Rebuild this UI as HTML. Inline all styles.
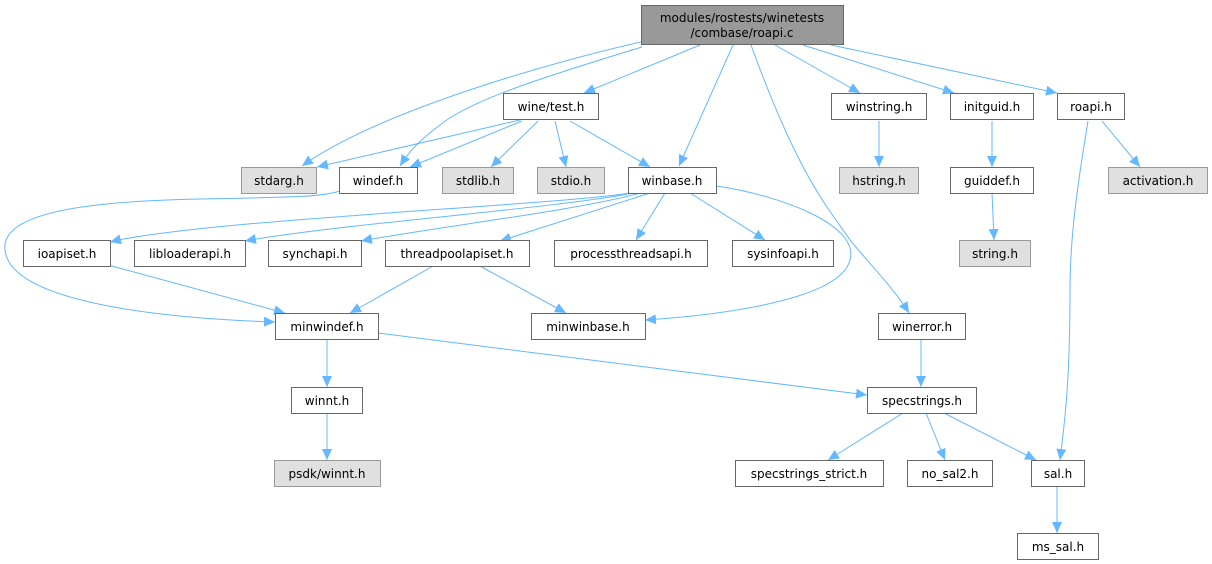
<!DOCTYPE html>
<html><head><meta charset="utf-8"><style>
html,body{margin:0;padding:0;background:#fff;}
svg{display:block;}
text{font-family:"DejaVu Sans","Liberation Sans",sans-serif;font-size:12px;fill:#000;text-anchor:middle;}
.n{fill:#fff;stroke:#666;stroke-width:1;}
.g{fill:#e0e0e0;stroke:#999;stroke-width:1;}
.r{fill:#999;stroke:#666;stroke-width:1;}
path.e{fill:none;stroke:#63b8ff;stroke-width:1;}
</style></head><body>
<svg width="1212" height="564" viewBox="0 0 1212 564" xmlns="http://www.w3.org/2000/svg">
<defs><marker id="a" markerUnits="userSpaceOnUse" markerWidth="12" markerHeight="10" refX="11" refY="5" orient="auto"><path d="M0,0 L11,5 L0,10 z" fill="#63b8ff"/></marker></defs>
<g marker-end="url(#a)">
<path class="e" d="M641,42 C560,60 380,110 302,166"/>
<path class="e" d="M642,47 C550,75 470,100 440,125 C420,140 410,150 400,166"/>
<path class="e" d="M700,45 L584,93"/>
<path class="e" d="M733,45 L679,166"/>
<path class="e" d="M751,45 C800,180 830,210 850,240 C875,270 895,290 909,313"/>
<path class="e" d="M775,45 L860,93"/>
<path class="e" d="M803,45 L954,93"/>
<path class="e" d="M831,45 L1057,93"/>
<path class="e" d="M520,120 L317,167"/>
<path class="e" d="M522,121 L410,167"/>
<path class="e" d="M538,121 L491,167"/>
<path class="e" d="M555,121 L566,167"/>
<path class="e" d="M570,121 L650,167"/>
<path class="e" d="M340,191 C320,197 300,197 200,199 C100,201 0,210 5,250 C10,300 150,318 275,322"/>
<path class="e" d="M630,193 C560,205 200,220 110,242"/>
<path class="e" d="M633,193 C560,208 330,225 245,241"/>
<path class="e" d="M640,193 C580,210 430,228 361,241"/>
<path class="e" d="M650,193 L500,241"/>
<path class="e" d="M665,193 L636,240"/>
<path class="e" d="M690,193 L765,240"/>
<path class="e" d="M716,186 C780,195 860,225 850,260 C840,300 720,315 645,320"/>
<path class="e" d="M108,265 L285,313"/>
<path class="e" d="M435,265 L350,313"/>
<path class="e" d="M478,265 L566,313"/>
<path class="e" d="M327,339 L327,387"/>
<path class="e" d="M378,333 L867,395"/>
<path class="e" d="M327,413 L327,460"/>
<path class="e" d="M921,339 L921,387"/>
<path class="e" d="M903,413 L828,460"/>
<path class="e" d="M926,413 L945,460"/>
<path class="e" d="M944,413 L1036,460"/>
<path class="e" d="M1088,121 C1080,170 1070,230 1070,290 C1070,380 1065,420 1060,460"/>
<path class="e" d="M1102,121 L1140,167"/>
<path class="e" d="M992,121 L992,167"/>
<path class="e" d="M879,121 L879,167"/>
<path class="e" d="M992,193 L994,240"/>
<path class="e" d="M1057,485 L1057,533"/>
</g>
<rect class="r" x="641.5" y="5.5" width="202" height="39"/>
<text x="742" y="22">modules/rostests/winetests</text>
<text x="742" y="37">/combase/roapi.c</text>

<rect class="n" x="503.5" y="93.5" width="95" height="26"/><text x="551" y="111">wine/test.h</text>
<rect class="n" x="831.5" y="93.5" width="95" height="26"/><text x="879" y="111">winstring.h</text>
<rect class="n" x="950.5" y="93.5" width="83" height="26"/><text x="992" y="111">initguid.h</text>
<rect class="n" x="1057.5" y="93.5" width="67" height="26"/><text x="1091" y="111">roapi.h</text>

<rect class="g" x="241.5" y="167.5" width="75" height="26"/><text x="279" y="185">stdarg.h</text>
<rect class="n" x="339.5" y="167.5" width="78" height="26"/><text x="378" y="185">windef.h</text>
<rect class="g" x="442.5" y="167.5" width="71" height="26"/><text x="478" y="185">stdlib.h</text>
<rect class="g" x="537.5" y="167.5" width="67" height="26"/><text x="571" y="185">stdio.h</text>
<rect class="n" x="628.5" y="167.5" width="88" height="26"/><text x="672" y="185">winbase.h</text>
<rect class="g" x="839.5" y="167.5" width="79" height="26"/><text x="879" y="185">hstring.h</text>
<rect class="n" x="950.5" y="167.5" width="83" height="26"/><text x="992" y="185">guiddef.h</text>
<rect class="g" x="1108.5" y="167.5" width="99" height="26"/><text x="1158" y="185">activation.h</text>

<rect class="n" x="23.5" y="240.5" width="87" height="26"/><text x="67" y="258">ioapiset.h</text>
<rect class="n" x="134.5" y="240.5" width="111" height="26"/><text x="190" y="258">libloaderapi.h</text>
<rect class="n" x="268.5" y="240.5" width="93" height="26"/><text x="315" y="258">synchapi.h</text>
<rect class="n" x="385.5" y="240.5" width="144" height="26"/><text x="457" y="258">threadpoolapiset.h</text>
<rect class="n" x="554.5" y="240.5" width="153" height="26"/><text x="631" y="258">processthreadsapi.h</text>
<rect class="n" x="732.5" y="240.5" width="101" height="26"/><text x="783" y="258">sysinfoapi.h</text>
<rect class="g" x="959.5" y="240.5" width="71" height="26"/><text x="995" y="258">string.h</text>

<rect class="n" x="275.5" y="313.5" width="103" height="26"/><text x="327" y="331">minwindef.h</text>
<rect class="n" x="531.5" y="313.5" width="114" height="26"/><text x="588" y="331">minwinbase.h</text>
<rect class="n" x="878.5" y="313.5" width="87" height="26"/><text x="922" y="331">winerror.h</text>

<rect class="n" x="291.5" y="387.5" width="71" height="26"/><text x="327" y="405">winnt.h</text>
<rect class="n" x="867.5" y="387.5" width="109" height="26"/><text x="922" y="405">specstrings.h</text>

<rect class="g" x="274.5" y="460.5" width="106" height="26"/><text x="327" y="478">psdk/winnt.h</text>
<rect class="n" x="735.5" y="460.5" width="148" height="26"/><text x="809" y="478">specstrings_strict.h</text>
<rect class="n" x="907.5" y="460.5" width="85" height="26"/><text x="950" y="478">no_sal2.h</text>
<rect class="n" x="1031.5" y="460.5" width="53" height="26"/><text x="1058" y="478">sal.h</text>

<rect class="n" x="1017.5" y="533.5" width="81" height="26"/><text x="1058" y="551">ms_sal.h</text>
</svg>
</body></html>
